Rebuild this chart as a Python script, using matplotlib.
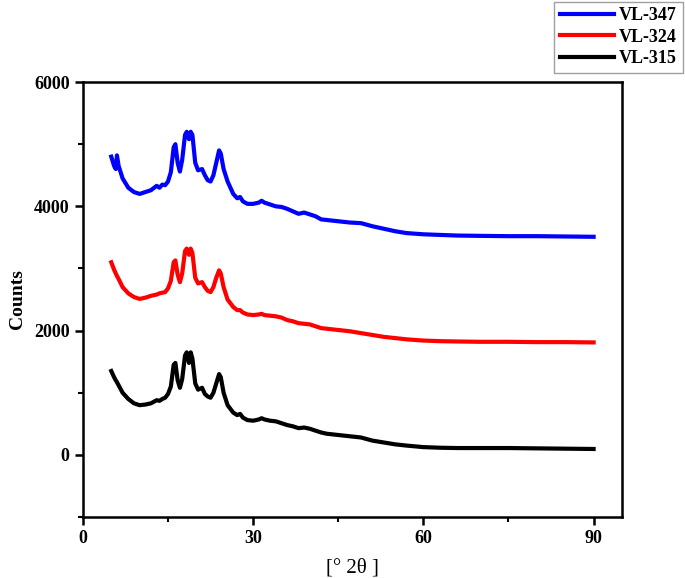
import matplotlib
matplotlib.use('Agg')
import matplotlib.pyplot as plt
from matplotlib.ticker import MultipleLocator

plt.rcParams['font.family'] = ['Liberation Serif', 'DejaVu Serif']

# 2-theta grid shared by all three patterns
two_theta = [5, 5.5, 5.8, 6.0, 6.3, 7, 8, 9, 10, 11, 12, 13, 13.5, 14, 14.5, 15, 15.5,
             16.0, 16.3, 16.7, 17.1, 17.5, 18.0, 18.3, 18.7, 19.0, 19.3, 19.8, 20.3,
             21.0, 21.5, 22.0, 22.5, 23.0, 23.5, 24.0, 24.3, 24.8, 25.5, 26.5, 27.2,
             27.7, 28.2, 29, 30, 31, 31.5, 32, 33, 34, 35, 36, 37, 38, 39, 40, 41, 42,
             43, 44, 45, 47, 49, 51, 53, 55, 57, 60, 63, 66, 70, 75, 80, 85, 90]

vl347 = [4800, 4650, 4600, 4820, 4650, 4450, 4300, 4230, 4200, 4230, 4260, 4330, 4300,
         4350, 4340, 4400, 4550, 4950, 5000, 4700, 4560, 4750, 5150, 5200, 5080, 5200,
         5150, 4700, 4580, 4600, 4500, 4420, 4400, 4500, 4700, 4900, 4850, 4600, 4400,
         4200, 4130, 4150, 4080, 4040, 4040, 4060, 4090, 4060, 4030, 4000, 3990, 3960,
         3920, 3880, 3900, 3870, 3840, 3790, 3780, 3770, 3760, 3740, 3730, 3680, 3640,
         3600, 3570, 3550, 3540, 3530, 3525, 3520, 3520, 3515, 3510]

vl324 = [3100, 2980, 2920, 2880, 2830, 2700, 2600, 2540, 2510, 2530, 2560, 2580, 2600,
         2610, 2620, 2680, 2800, 3100, 3130, 2900, 2780, 2920, 3280, 3320, 3220, 3320,
         3250, 2850, 2760, 2780, 2700, 2640, 2620, 2700, 2850, 2970, 2920, 2700, 2500,
         2380, 2330, 2330, 2290, 2260, 2250, 2260, 2270, 2250, 2240, 2230, 2210, 2170,
         2150, 2120, 2110, 2100, 2070, 2040, 2030, 2020, 2010, 1990, 1960, 1930, 1900,
         1880, 1860, 1840, 1830, 1825, 1820, 1820, 1815, 1815, 1810]

vl315 = [1350, 1250, 1200, 1170, 1120, 1000, 900, 830, 800, 810, 830, 880, 870,
         900, 920, 980, 1100, 1450, 1480, 1200, 1080, 1220, 1600, 1650, 1480, 1650,
         1550, 1150, 1050, 1080, 980, 940, 920, 1000, 1150, 1300, 1250, 1000, 800,
         680, 640, 660, 600, 560, 550, 570, 590, 570, 550, 540, 510, 480,
         460, 430, 440, 420, 390, 360, 340, 330, 320, 300, 280, 230, 200,
         170, 150, 125, 115, 110, 110, 110, 105, 100, 95]

series = [('VL-347', vl347, '#0000ff'),
          ('VL-324', vl324, '#ff0000'),
          ('VL-315', vl315, '#000000')]

fig = plt.figure(figsize=(6.85, 5.78), dpi=100)
ax = fig.add_axes([0.121, 0.1055, 0.787, 0.7525])

for name, vals, col in series:
    ax.plot(two_theta, vals, color=col, lw=3.0, label=name)

ax.set_xlim(0, 95)
ax.set_ylim(-1000, 6000)
ax.xaxis.set_major_locator(MultipleLocator(30))
ax.xaxis.set_minor_locator(MultipleLocator(15))
ax.yaxis.set_major_locator(MultipleLocator(2000))
ax.yaxis.set_minor_locator(MultipleLocator(1000))

for sp in ax.spines.values():
    sp.set_linewidth(1.8)
ax.tick_params(which='major', direction='out', length=6, width=1.8, labelsize=13)
ax.tick_params(which='minor', direction='out', length=3.5, width=1.5)
for lab in ax.get_xticklabels() + ax.get_yticklabels():
    lab.set_fontweight('bold')

ax.set_ylabel('Counts', fontsize=14, fontweight='bold', labelpad=6)
ax.set_xlabel('[° 2θ ]', fontsize=15, labelpad=8)

leg = fig.legend(loc='upper right', bbox_to_anchor=(0.999, 1.0), fancybox=False,
                 edgecolor='#888888', prop={'weight': 'bold', 'size': 13},
                 handlelength=3.0, borderpad=0.3, labelspacing=0.25,
                 handletextpad=0.3, borderaxespad=0.1)
leg.get_frame().set_linewidth(1.0)

fig.savefig('out.png', dpi=100)
